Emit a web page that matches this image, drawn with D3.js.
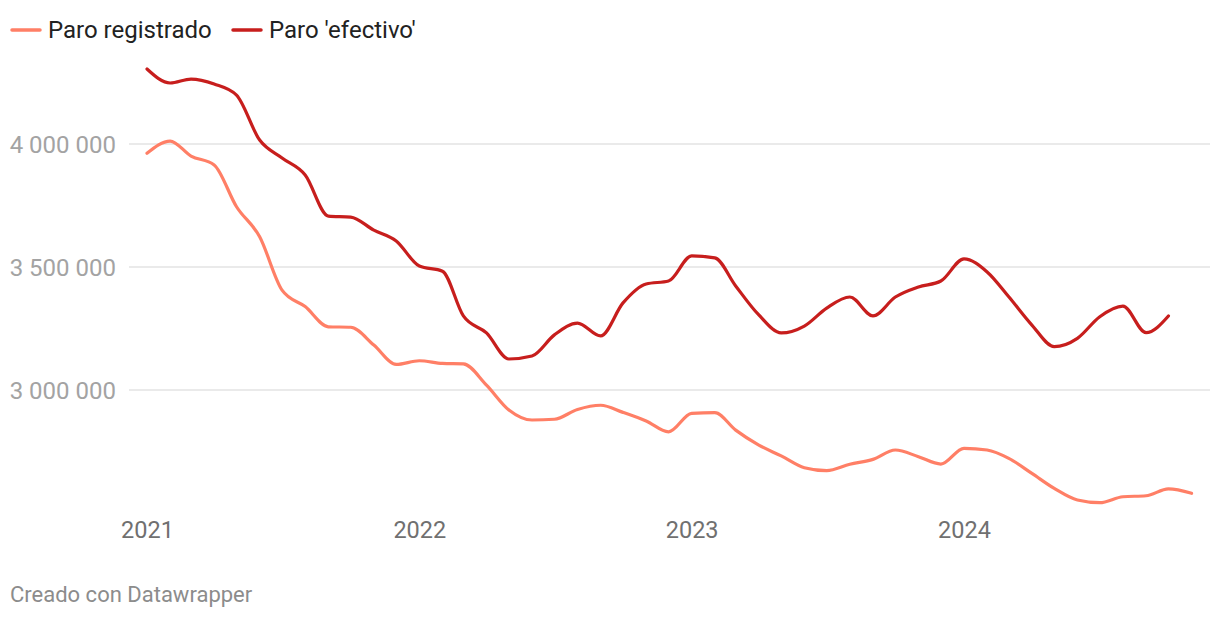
<!DOCTYPE html>
<html>
<head>
<meta charset="utf-8">
<script src="https://cdn.jsdelivr.net/npm/d3@7"></script>
<style>
  html, body { margin: 0; padding: 0; background: #fff; }
  svg { display: block; font-family: Roboto, "Noto Sans", sans-serif; }
</style>
</head>
<body>
<svg id="chart" width="1220" height="620"></svg>
<script>
const startMonth = "2021-01";
const registrado = [
  3962000, 4012000, 3951000, 3915000, 3745000, 3623000, 3406000, 3339000, 3257000, 3255000, 3183000, 3104000,
  3119000, 3108000, 3106000, 3020000, 2919000, 2878000, 2881000, 2921000, 2938000, 2909000, 2874000, 2830000,
  2905000, 2908000, 2837000, 2776000, 2732000, 2684000, 2672000, 2698000, 2718000, 2756000, 2729000, 2699000,
  2763000, 2756000, 2722000, 2661000, 2600000, 2553000, 2542000, 2566000, 2570000, 2598000, 2580000
];
const efectivo = [
  4305000, 4248000, 4264000, 4244000, 4199000, 4016000, 3943000, 3874000, 3707000, 3703000, 3650000, 3606000,
  3504000, 3483000, 3301000, 3232000, 3126000, 3138000, 3224000, 3272000, 3220000, 3354000, 3431000, 3443000,
  3545000, 3537000, 3423000, 3305000, 3232000, 3260000, 3333000, 3378000, 3301000, 3378000, 3419000, 3443000,
  3533000, 3480000, 3379000, 3264000, 3176000, 3210000, 3298000, 3341000, 3233000, 3301000
];
const seriesNames = ["Paro registrado", "Paro 'efectivo'"];
const seriesColors = ["#ff7f66", "#c71e1d"];
const yTicks = [3000000, 3500000, 4000000];
const xTickYears = ["2021", "2022", "2023", "2024"];
const credit = "Creado con Datawrapper";

const svg = d3.select("#chart");
const parse = d3.timeParse("%Y-%m");
const t0 = parse(startMonth);
const monthDate = i => d3.timeMonth.offset(t0, i);

const x = d3.scaleTime()
  .domain([new Date(2021, 0, 1), new Date(2024, 0, 1)])
  .range([147, 964]);
const y = d3.scaleLinear()
  .domain([2500000, 4300000])
  .range([513, 70.2]);

// gridlines
const fmt = v => d3.format(",")(v).replace(/,/g, " ");
const grid = svg.append("g");
grid.selectAll("line").data(yTicks).join("line")
  .attr("x1", 129).attr("x2", 1210)
  .attr("y1", d => y(d)).attr("y2", d => y(d))
  .attr("stroke", "#e3e3e3").attr("stroke-width", 1.5);
grid.selectAll("text").data(yTicks).join("text")
  .attr("x", 116).attr("y", d => y(d) + 8.5)
  .attr("text-anchor", "end")
  .attr("font-size", 24).attr("fill", "#a3a3a3")
  .text(d => fmt(d));

// x axis labels
const xAxis = d3.axisBottom(x)
  .tickValues(xTickYears.map(s => d3.timeParse("%Y")(s)))
  .tickFormat(d3.timeFormat("%Y"))
  .tickSize(0).tickPadding(0);
const gx = svg.append("g").attr("transform", "translate(0,537.5)").call(xAxis);
gx.select(".domain").remove();
gx.selectAll("text").attr("font-size", 23.5).attr("fill", "#707070")
  .attr("font-family", "Roboto, sans-serif").attr("dy", "0");

// lines
const line = d3.line()
  .x((d, i) => x(monthDate(i)))
  .y(d => y(d))
  .curve(d3.curveMonotoneX);
[registrado, efectivo].forEach((s, k) => {
  svg.append("path").datum(s)
    .attr("d", line)
    .attr("fill", "none")
    .attr("stroke", seriesColors[k])
    .attr("stroke-width", 3.2)
    .attr("stroke-linejoin", "round")
    .attr("stroke-linecap", "round");
});

// legend
const legendX = [12, 233];
seriesNames.forEach((n, k) => {
  const g = svg.append("g").attr("transform", `translate(${legendX[k]},30)`);
  g.append("line").attr("x1", 0).attr("x2", 28).attr("y1", 0).attr("y2", 0)
    .attr("stroke", seriesColors[k]).attr("stroke-width", 3.5).attr("stroke-linecap", "round");
  g.append("text").attr("x", 36).attr("y", 7.8)
    .attr("font-size", 24).attr("fill", "#222").text(n);
});

// credit
svg.append("text").attr("x", 10).attr("y", 601.5)
  .attr("font-size", 22).attr("fill", "#8c8c8c").text(credit);
</script>
</body>
</html>
